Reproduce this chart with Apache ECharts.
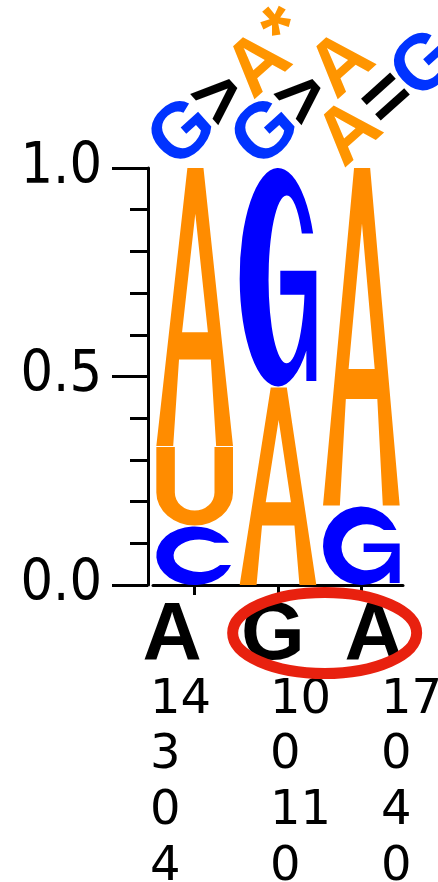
<!DOCTYPE html>
<html><head><meta charset="utf-8">
<script src="https://cdn.jsdelivr.net/npm/echarts@6/dist/echarts.min.js"></script>
<style>html,body{margin:0;padding:0;background:#fff;}#c{width:438px;height:882px;}</style>
</head><body><div id="c"></div>
<script>
// ---- data ----
const positions = ['1', '2', '3'];
const bases = ['A', 'C', 'G', 'U'];
const countsA = [14, 10, 17];
const countsC = [3, 0, 0];
const countsG = [0, 11, 4];
const countsU = [4, 0, 0];
const annotations = ['G>A*', 'G>A', 'A=G'];
const yTicks = [0, 0.5, 1.0];

// ---- styles / layout ----
const ORANGE = '#FF8C00', BLUE = '#0000FF';
const LBL_ORANGE = '#FF9500', LBL_BLUE = '#0033FF';
const baseColor = { A: ORANGE, U: ORANGE, C: BLUE, G: BLUE };
const consensusX = [172, 273, 374];
const tableX = [150, 270, 381];
const tableY = [701, 756, 812, 868];

// ---- glyph outlines (computed in pixel space from a cell rect) ----
const f = n => n.toFixed(2);
function ellX(cx, cy, rx, ry, yy, side) {
  const k = Math.max(-1, Math.min(1, (yy - cy) / ry));
  return cx + side * rx * Math.sqrt(1 - k * k);
}
function glyphA(x, y, w, h, t) {
  const xc = x + 0.51 * w, ft = 0.21 * w, lw1 = 0.17 * w, lw2 = 0.22 * w;
  const tl = xc - ft / 2, tr = xc + ft / 2;
  const oL = yy => x + (tl - x) * (1 - (yy - y) / h);
  const oR = yy => (x + w) - (x + w - tr) * (1 - (yy - y) / h);
  const cbT = Math.min(0.85 * t, 0.14 * h);
  const cb1 = y + 0.64 * h - cbT / 2, cb2 = cb1 + cbT;
  const apexY = y + Math.max(0.02, (2 * lw1 - ft) / (w - ft)) * h;
  const apexX = (oL(apexY) + lw1 + oR(apexY) - lw1) / 2;
  return 'M' + f(x) + ',' + f(y + h) + ' L' + f(tl) + ',' + f(y) + ' L' + f(tr) + ',' + f(y) +
    ' L' + f(x + w) + ',' + f(y + h) + ' L' + f(x + w - lw2) + ',' + f(y + h) +
    ' L' + f(oR(cb2) - lw1) + ',' + f(cb2) + ' L' + f(oL(cb2) + lw1) + ',' + f(cb2) +
    ' L' + f(x + lw2) + ',' + f(y + h) + ' Z' +
    ' M' + f(oL(cb1) + lw1) + ',' + f(cb1) + ' L' + f(oR(cb1) - lw1) + ',' + f(cb1) +
    ' L' + f(apexX) + ',' + f(apexY) + ' Z';
}
function glyphG(x, y, w, h, t) {
  const cx = x + w / 2, cy = y + h / 2, rx = w / 2, ry = h / 2;
  const il = x + t, ir = x + w - 0.4 * t, it = y + 0.95 * t, ib = y + h - 0.8 * t;
  const icx = (il + ir) / 2, icy = (it + ib) / 2, irx = (ir - il) / 2, iry = (ib - it) / 2;
  const termY = y + 0.3 * h;
  const barT = y + 0.47 * h, barB = y + 0.58 * h, barL = x + 0.53 * w;
  const stemL = x + 0.87 * w, stemB = y + 0.975 * h;
  const k = (stemL - cx) / rx, endY = cy + ry * Math.sqrt(1 - k * k);
  return 'M' + f(ellX(cx, cy, rx, ry, termY, 1)) + ',' + f(termY) +
    ' A' + f(rx) + ',' + f(ry) + ' 0 1 0 ' + f(stemL) + ',' + f(endY) +
    ' L' + f(stemL) + ',' + f(stemB) + ' L' + f(x + w) + ',' + f(stemB) +
    ' L' + f(x + w) + ',' + f(barT) + ' L' + f(barL) + ',' + f(barT) +
    ' L' + f(barL) + ',' + f(barB) + ' L' + f(ellX(icx, icy, irx, iry, barB, 1)) + ',' + f(barB) +
    ' A' + f(irx) + ',' + f(iry) + ' 0 1 1 ' + f(ellX(icx, icy, irx, iry, termY, 1)) + ',' + f(termY) + ' Z';
}
function glyphC(x, y, w, h, t) {
  const cx = x + w / 2, cy = y + h / 2, rx = w / 2, ry = h / 2;
  const il = x + 1.05 * t, ir = x + w - 0.5 * t, it = y + 0.8 * t, ib = y + h - 0.8 * t;
  const icx = (il + ir) / 2, icy = (it + ib) / 2, irx = (ir - il) / 2, iry = (ib - it) / 2;
  const t1 = y + 0.28 * h, t2 = y + 0.66 * h;
  return 'M' + f(ellX(cx, cy, rx, ry, t1, 1)) + ',' + f(t1) +
    ' A' + f(rx) + ',' + f(ry) + ' 0 1 0 ' + f(ellX(cx, cy, rx, ry, t2, 1)) + ',' + f(t2) +
    ' L' + f(ellX(icx, icy, irx, iry, t2, 1)) + ',' + f(t2) +
    ' A' + f(irx) + ',' + f(iry) + ' 0 1 1 ' + f(ellX(icx, icy, irx, iry, t1, 1)) + ',' + f(t1) + ' Z';
}
function glyphU(x, y, w, h, t) {
  const ry = 0.42 * h, cy = y + h - ry, rx = w / 2;
  const irx = rx - t, iry = Math.max(2, ry - 0.8 * t);
  return 'M' + f(x) + ',' + f(y) + ' L' + f(x + t) + ',' + f(y) + ' L' + f(x + t) + ',' + f(cy) +
    ' A' + f(irx) + ',' + f(iry) + ' 0 0 0 ' + f(x + w - t) + ',' + f(cy) +
    ' L' + f(x + w - t) + ',' + f(y) + ' L' + f(x + w) + ',' + f(y) + ' L' + f(x + w) + ',' + f(cy) +
    ' A' + f(rx) + ',' + f(ry) + ' 0 0 1 ' + f(x) + ',' + f(cy) + ' Z';
}
const GLYPH = { A: glyphA, C: glyphC, G: glyphG, U: glyphU };

// ---- derived stacks ----
const countTable = { A: countsA, C: countsC, G: countsG, U: countsU };
const logoItems = [];
const consensus = [];
positions.forEach((p, i) => {
  const total = bases.reduce((s, b) => s + countTable[b][i], 0);
  const stack = bases.map(b => ({ b, f: countTable[b][i] / total }))
    .filter(d => d.f > 0).sort((a, b) => a.f - b.f);
  let y = 0;
  stack.forEach(d => { logoItems.push([i, y, y + d.f, bases.indexOf(d.b)]); y += d.f; });
  consensus.push(stack[stack.length - 1].b);
});

const chart = echarts.init(document.getElementById('c'), null, { renderer: 'canvas', width: 438, height: 882 });

const graphics = [];
consensus.forEach((b, i) => {
  graphics.push({ type: 'text', x: consensusX[i], y: 636, style: {
    text: b, fill: '#000', fontSize: 82, fontWeight: 'bold', fontFamily: 'Liberation Sans',
    align: 'center', verticalAlign: 'middle' } });
});
bases.forEach((b, r) => {
  positions.forEach((p, i) => {
    graphics.push({ type: 'text', x: tableX[i], y: tableY[r], style: {
      text: String(countTable[b][i]), fill: '#000', fontSize: 48, fontFamily: 'DejaVu Sans',
      align: 'left', verticalAlign: 'middle' } });
  });
});

function charColor(ch) {
  if (ch === 'A' || ch === 'U' || ch === '*') return LBL_ORANGE;
  if (ch === 'G' || ch === 'C') return LBL_BLUE;
  return '#000';
}
const LABEL_STEP = 51;

const option = {
  animation: false,
  backgroundColor: '#fff',
  grid: { left: 153, right: 35, top: 168, bottom: 297, containLabel: false },
  xAxis: {
    type: 'category', data: positions, boundaryGap: true,
    axisLine: { show: true, lineStyle: { color: '#000', width: 3 } },
    axisTick: { show: true, alignWithLabel: true, length: 10, lineStyle: { color: '#000', width: 3 } },
    axisLabel: { show: false }, splitLine: { show: false }
  },
  yAxis: {
    type: 'value', min: 0, max: 1, interval: 0.5, offset: 5,
    axisLine: { show: true, lineStyle: { color: '#000', width: 3 } },
    axisTick: { show: true, length: 36, lineStyle: { color: '#000', width: 3 } },
    minorTick: { show: true, splitNumber: 5, length: 18, lineStyle: { color: '#000', width: 3 } },
    splitLine: { show: false },
    axisLabel: { color: '#000', fontSize: 57, fontFamily: "'DejaVu Sans Condensed', 'DejaVu Sans'", margin: 46,
      formatter: v => yTicks.indexOf(v) >= 0 ? v.toFixed(1) : '' }
  },
  series: [
    {
      type: 'custom', name: 'logo', data: logoItems, clip: false,
      encode: { x: 0, y: [1, 2] },
      renderItem: (params, api) => {
        const i = api.value(0);
        const p0 = api.coord([i, api.value(1)]);
        const p1 = api.coord([i, api.value(2)]);
        const bw = api.size([1, 0])[0] * 0.92;
        const b = bases[api.value(3)];
        const gap = api.value(2) < 0.999 ? 1 : 0;
        const w = bw, h = p0[1] - p1[1] - gap;
        const t = 0.2 * Math.sqrt(w * h) + 3;
        return { type: 'path', shape: { pathData: GLYPH[b](p0[0] - bw / 2, p1[1] + gap, w, h, t) },
          style: { fill: baseColor[b] } };
      }
    },
    {
      type: 'custom', name: 'annotations', data: positions.map((p, i) => [i, 1]), clip: false,
      encode: { x: 0, y: 1 },
      renderItem: (params, api) => {
        const i = api.value(0);
        const c = api.coord([i, 1]);
        const children = [];
        let k = 0;
        annotations[i].split('').forEach(ch => {
          const sup = ch === '*';
          const px = sup ? (k - 1) * LABEL_STEP + 42 : k * LABEL_STEP;
          children.push({ type: 'text', x: px, y: sup ? -6 : 0, style: {
            text: ch, fill: charColor(ch), fontSize: 78, fontWeight: 'bold', fontFamily: 'Liberation Sans',
            align: 'center', verticalAlign: 'middle' } });
          if (!sup) k++;
        });
        return { type: 'group', x: c[0] - 11, y: c[1] - 34, rotation: 42 * Math.PI / 180, children };
      }
    },
    {
      type: 'custom', name: 'highlight', data: [[1, 0]], clip: false,
      encode: { x: 0, y: 1 },
      renderItem: (params, api) => {
        const a = api.coord([1, 0]);
        const b = api.coord([2, 0]);
        return { type: 'ellipse', shape: { cx: (a[0] + b[0]) / 2 + 5, cy: a[1] + 48, rx: 92, ry: 40.5 },
          style: { fill: 'none', stroke: '#E8210F', lineWidth: 11 } };
      }
    }
  ],
  graphic: graphics
};
chart.setOption(option);
</script>
</body></html>
